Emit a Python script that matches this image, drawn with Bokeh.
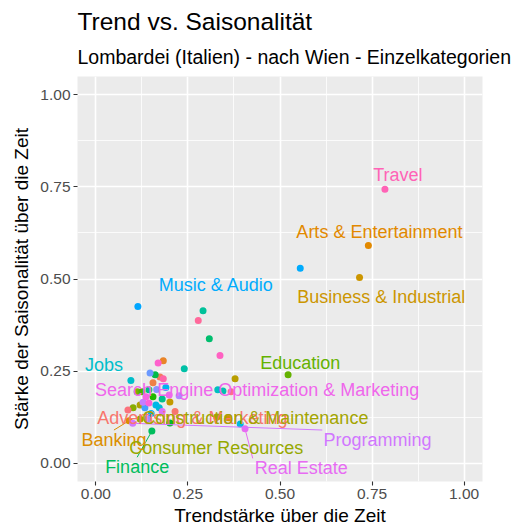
import math
from bokeh.plotting import figure
from bokeh.models import ColumnDataSource, FixedTicker, Title, Range1d
from bokeh.core.properties import value
from bokeh.embed import file_html
from bokeh.resources import INLINE

# ---------------- data ----------------
title_text = "Trend vs. Saisonalität"
subtitle_text = "Lombardei (Italien) - nach Wien - Einzelkategorien"
x_title = "Trendstärke über die Zeit"
y_title = "Stärke der Saisonalität über die Zeit"

# factor levels in legend order (unlabelled categories cannot be read from the picture)
categories = [
    "Advertising & Marketing", "Kategorie 01", "Kategorie 02", "Kategorie 03",
    "Arts & Entertainment", "Banking", "Kategorie 06", "Business & Industrial",
    "Kategorie 08", "Kategorie 09", "Kategorie 10", "Construction & Maintenance",
    "Consumer Resources", "Kategorie 13", "Kategorie 14", "Education",
    "Kategorie 16", "Kategorie 17", "Kategorie 18", "Kategorie 19",
    "Finance", "Kategorie 21", "Kategorie 22", "Kategorie 23",
    "Kategorie 24", "Kategorie 25", "Kategorie 26", "Kategorie 27",
    "Jobs", "Kategorie 29", "Kategorie 30", "Kategorie 31",
    "Kategorie 32", "Kategorie 33", "Music & Audio", "Kategorie 35",
    "Kategorie 36", "Kategorie 37", "Kategorie 38", "Kategorie 39",
    "Kategorie 40", "Kategorie 41", "Programming", "Kategorie 43",
    "Real Estate", "Search Engine Optimization & Marketing", "Kategorie 46", "Kategorie 47",
    "Kategorie 48", "Kategorie 49", "Travel", "Kategorie 51",
    "Kategorie 52", "Kategorie 53", "Kategorie 54",
]
trend = [
    0.215, 0.174, 0.155, 0.183,
    0.740, 0.090, 0.360, 0.716,
    0.201, 0.378, 0.120, 0.329,
    0.120, 0.101, 0.112, 0.522,
    0.125, 0.155, 0.201, 0.161,
    0.152, 0.308, 0.144, 0.180,
    0.291, 0.240, 0.345, 0.331,
    0.095, 0.172, 0.392, 0.163,
    0.190, 0.150, 0.555, 0.114,
    0.133, 0.147, 0.165, 0.140,
    0.226, 0.128, 0.100, 0.180,
    0.405, 0.199, 0.136, 0.144,
    0.169, 0.337, 0.785, 0.183,
    0.278, 0.367, 0.087,
]
season = [
    0.140, 0.234, 0.218, 0.278,
    0.591, 0.115, 0.123, 0.504,
    0.166, 0.229, 0.158, 0.125,
    0.120, 0.150, 0.194, 0.240,
    0.194, 0.180, 0.109, 0.240,
    0.087, 0.338, 0.199, 0.174,
    0.414, 0.256, 0.196, 0.199,
    0.224, 0.150, 0.106, 0.158,
    0.205, 0.135, 0.529, 0.425,
    0.150, 0.245, 0.200, 0.120,
    0.183, 0.165, 0.108, 0.140,
    0.093, 0.185, 0.180, 0.163,
    0.272, 0.292, 0.744, 0.229,
    0.387, 0.194, 0.144,
]

# repelled text labels (centre of each label, data units)
label_names = [
    "Travel", "Arts & Entertainment", "Music & Audio", "Business & Industrial",
    "Jobs", "Education", "Search Engine Optimization & Marketing",
    "Advertising & Marketing", "Construction & Maintenance", "Banking",
    "Consumer Resources", "Finance", "Programming", "Real Estate",
]
label_trend = [0.820, 0.770, 0.327, 0.775, 0.022, 0.555, 0.438,
               0.262, 0.433, 0.049, 0.327, 0.112, 0.765, 0.558]
label_season = [0.782, 0.627, 0.485, 0.450, 0.267, 0.272, 0.199,
                0.123, 0.123, 0.063, 0.041, -0.011, 0.063, -0.014]
segment_labels = ["Banking", "Finance", "Programming", "Real Estate"]

tick_values = [0.0, 0.25, 0.5, 0.75, 1.0]
tick_labels = ["0.00", "0.25", "0.50", "0.75", "1.00"]
minor_values = [0.125, 0.375, 0.625, 0.875]


# ---------------- helpers ----------------
def hcl_hex(h, c=100.0, l=65.0):
    hr = math.radians(h)
    u, v = c * math.cos(hr), c * math.sin(hr)
    Xn, Yn, Zn = 95.047, 100.0, 108.883
    den = Xn + 15 * Yn + 3 * Zn
    un, vn = 4 * Xn / den, 9 * Yn / den
    Y = Yn * ((l + 16) / 116) ** 3
    up, vp = u / (13 * l) + un, v / (13 * l) + vn
    X = Y * 9 * up / (4 * vp)
    Z = Y * (12 - 3 * up - 20 * vp) / (4 * vp)
    X, Y, Z = X / 100, Y / 100, Z / 100
    rgb = [3.2404542 * X - 1.5371385 * Y - 0.4985314 * Z,
           -0.9692660 * X + 1.8760108 * Y + 0.0415560 * Z,
           0.0556434 * X - 0.2040259 * Y + 1.0572252 * Z]
    out = []
    for ch in rgb:
        ch = 12.92 * ch if ch <= 0.0031308 else 1.055 * ch ** (1 / 2.4) - 0.055
        out.append(max(0, min(255, round(ch * 255))))
    return "#%02X%02X%02X" % tuple(out)


n = len(categories)
palette = [hcl_hex(15 + 360.0 * i / n) for i in range(n)]
colour_of = dict(zip(categories, palette))


def text_width(s, size):
    w = 0.0
    for ch in s:
        if ch in "il.,'|":
            w += 0.222
        elif ch in "tfrI-()":
            w += 0.31
        elif ch == " ":
            w += 0.278
        elif ch in "mMW":
            w += 0.85
        elif ch in "&ABCDEFGHKNOPRSTUVXYZ":
            w += 0.68
        else:
            w += 0.54
    return w * size


FONT = "Liberation Sans"
LABEL_PX = 18
XR = (-0.05, 1.05)
YR = (-0.05, 1.05)
W, H = 512, 528
BL, BR, BT, BB = 77, 30, 76, 46
FRAME_W, FRAME_H = W - BL - BR, H - BT - BB
sx = FRAME_W / (XR[1] - XR[0])
sy = FRAME_H / (YR[1] - YR[0])

pt = dict(zip(categories, zip(trend, season)))

seg_x0, seg_y0, seg_x1, seg_y1, seg_col = [], [], [], [], []
for name, lx, ly in zip(label_names, label_trend, label_season):
    if name not in segment_labels:
        continue
    px, py = pt[name]
    hw = text_width(name, LABEL_PX) / 2 / sx + 2 / sx
    hh = (LABEL_PX * 0.55) / sy
    anchors = [(lx + ax * hw, ly + ay * hh) for ax in (-1, 0, 1) for ay in (-1, 0, 1)
               if not (ax == 0 and ay == 0)]
    best = min(anchors, key=lambda a: ((a[0] - px) * sx) ** 2 + ((a[1] - py) * sy) ** 2)
    seg_x0.append(px); seg_y0.append(py)
    seg_x1.append(best[0]); seg_y1.append(best[1])
    seg_col.append(colour_of[name])

# ---------------- figure ----------------
p = figure(width=W, height=H, output_backend="svg", toolbar_location=None,
           x_range=Range1d(*XR), y_range=Range1d(*YR),
           min_border_left=BL, min_border_right=BR, min_border_top=BT, min_border_bottom=BB)
p.background_fill_color = "#EBEBEB"
p.border_fill_color = "white"
p.outline_line_color = None

for ax in (p.xaxis, p.yaxis):
    ax.ticker = FixedTicker(ticks=tick_values, minor_ticks=minor_values)
    ax.major_label_overrides = dict(zip(tick_values, tick_labels))
    ax.axis_line_color = None
    ax.major_tick_line_color = "#333333"
    ax.major_tick_line_width = 1.1
    ax.major_tick_out = 4
    ax.major_tick_in = 0
    ax.minor_tick_line_color = None
    ax.major_label_text_color = "#4D4D4D"
    ax.major_label_text_font = FONT
    ax.major_label_text_font_size = "15.5px"
    ax.major_label_standoff = 3
    ax.axis_label_text_font = FONT
    ax.axis_label_text_font_size = "19px"
    ax.axis_label_text_font_style = "normal"
    ax.axis_label_text_color = "black"
p.xaxis.axis_label = x_title
p.yaxis.axis_label = y_title
p.xaxis.axis_label_standoff = 3
p.yaxis.axis_label_standoff = 5

for g in (p.xgrid, p.ygrid):
    g.grid_line_color = "white"
    g.grid_line_width = 1.6
    g.minor_grid_line_color = "white"
    g.minor_grid_line_width = 0.8

pts = ColumnDataSource(dict(x=trend, y=season, c=[colour_of[k] for k in categories]))
p.scatter("x", "y", source=pts, size=7, fill_color="c", line_color=None)

p.segment(x0=seg_x0, y0=seg_y0, x1=seg_x1, y1=seg_y1, line_color=seg_col, line_width=1)

lab = ColumnDataSource(dict(x=label_trend, y=label_season, t=label_names,
                            c=[colour_of[k] for k in label_names]))
p.text("x", "y", text="t", source=lab, text_color="c", text_align="center",
       text_baseline="middle", text_font=value(FONT), text_font_size=f"{LABEL_PX}px")

p.add_layout(Title(text=subtitle_text, text_font=FONT, text_font_size="19.5px",
                   text_font_style="normal", text_color="black", align="left",
                   standoff=18), "above")
p.add_layout(Title(text=title_text, text_font=FONT, text_font_size="24.5px",
                   text_font_style="normal", text_color="black", align="left",
                   standoff=0), "above")

open("out.html", "w").write(file_html(p, INLINE))
